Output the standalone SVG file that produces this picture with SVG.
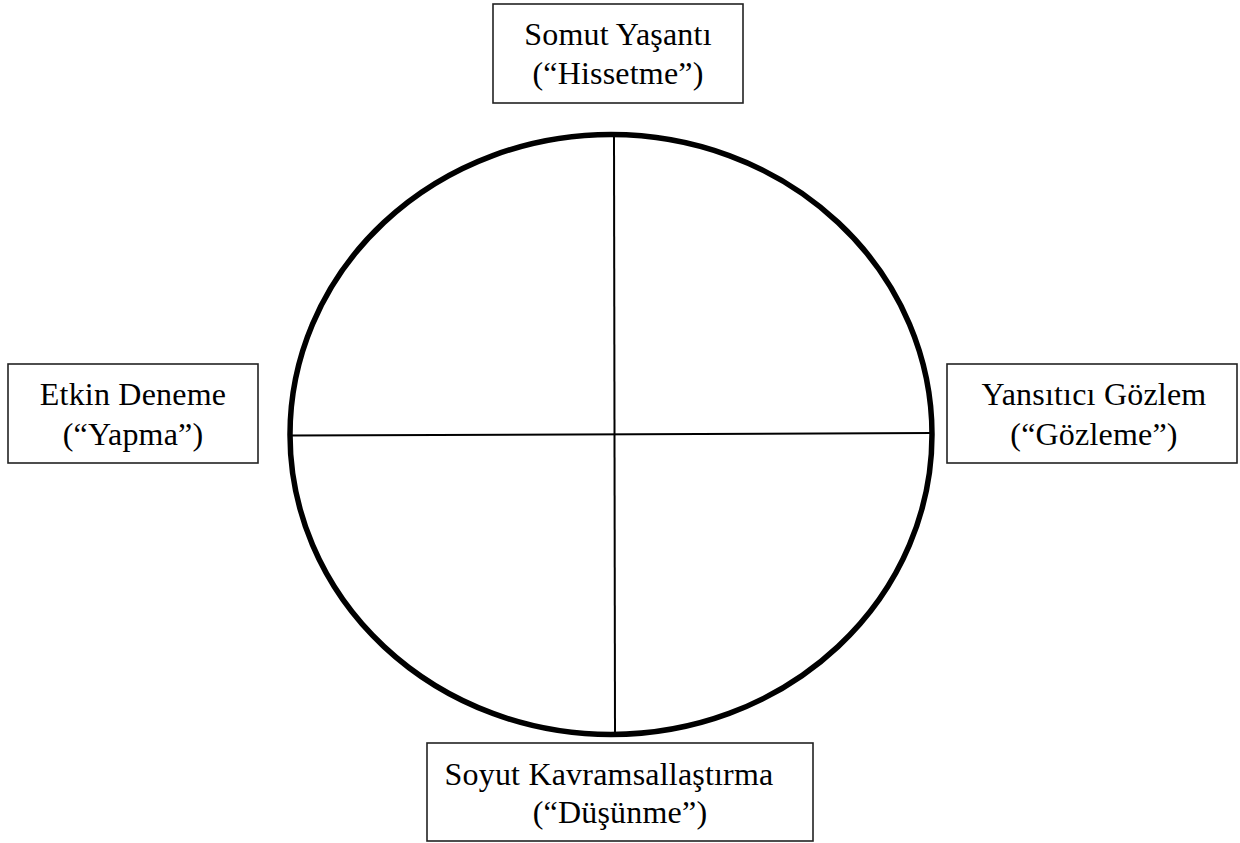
<svg xmlns="http://www.w3.org/2000/svg" width="1240" height="843" viewBox="0 0 1240 843">
<style>
.box{fill:#fff;stroke:#222;stroke-width:1.6}
.t{font-family:"Liberation Serif","Times New Roman",serif;font-size:32px;letter-spacing:0.2px;fill:#000;text-anchor:middle}
.ln{stroke:#000;stroke-width:2;fill:none}
</style>
<rect width="1240" height="843" fill="#fff"/>
<g id="connectors">
<ellipse cx="611" cy="434.5" rx="321" ry="300" fill="none" stroke="#000" stroke-width="5.5"/>
<line class="ln" x1="614" y1="135" x2="615" y2="734"/>
<line class="ln" x1="290" y1="435.5" x2="932" y2="433"/>
</g>
<g id="top">
<rect class="box" x="493" y="4" width="250" height="99"/>
<text class="t" x="618" y="45">Somut Yaşantı</text>
<text class="t" x="618" y="84">(“Hissetme”)</text>
</g>
<g id="left">
<rect class="box" x="8" y="364" width="250" height="99"/>
<text class="t" x="133" y="405">Etkin Deneme</text>
<text class="t" x="133" y="445">(“Yapma”)</text>
</g>
<g id="right">
<rect class="box" x="947" y="364" width="290" height="99"/>
<text class="t" x="1094" y="405">Yansıtıcı Gözlem</text>
<text class="t" x="1094" y="445">(“Gözleme”)</text>
</g>
<g id="bottom">
<rect class="box" x="427" y="743" width="386" height="98"/>
<text class="t" x="609" y="785">Soyut Kavramsallaştırma</text>
<text class="t" x="620" y="823">(“Düşünme”)</text>
</g>
</svg>
